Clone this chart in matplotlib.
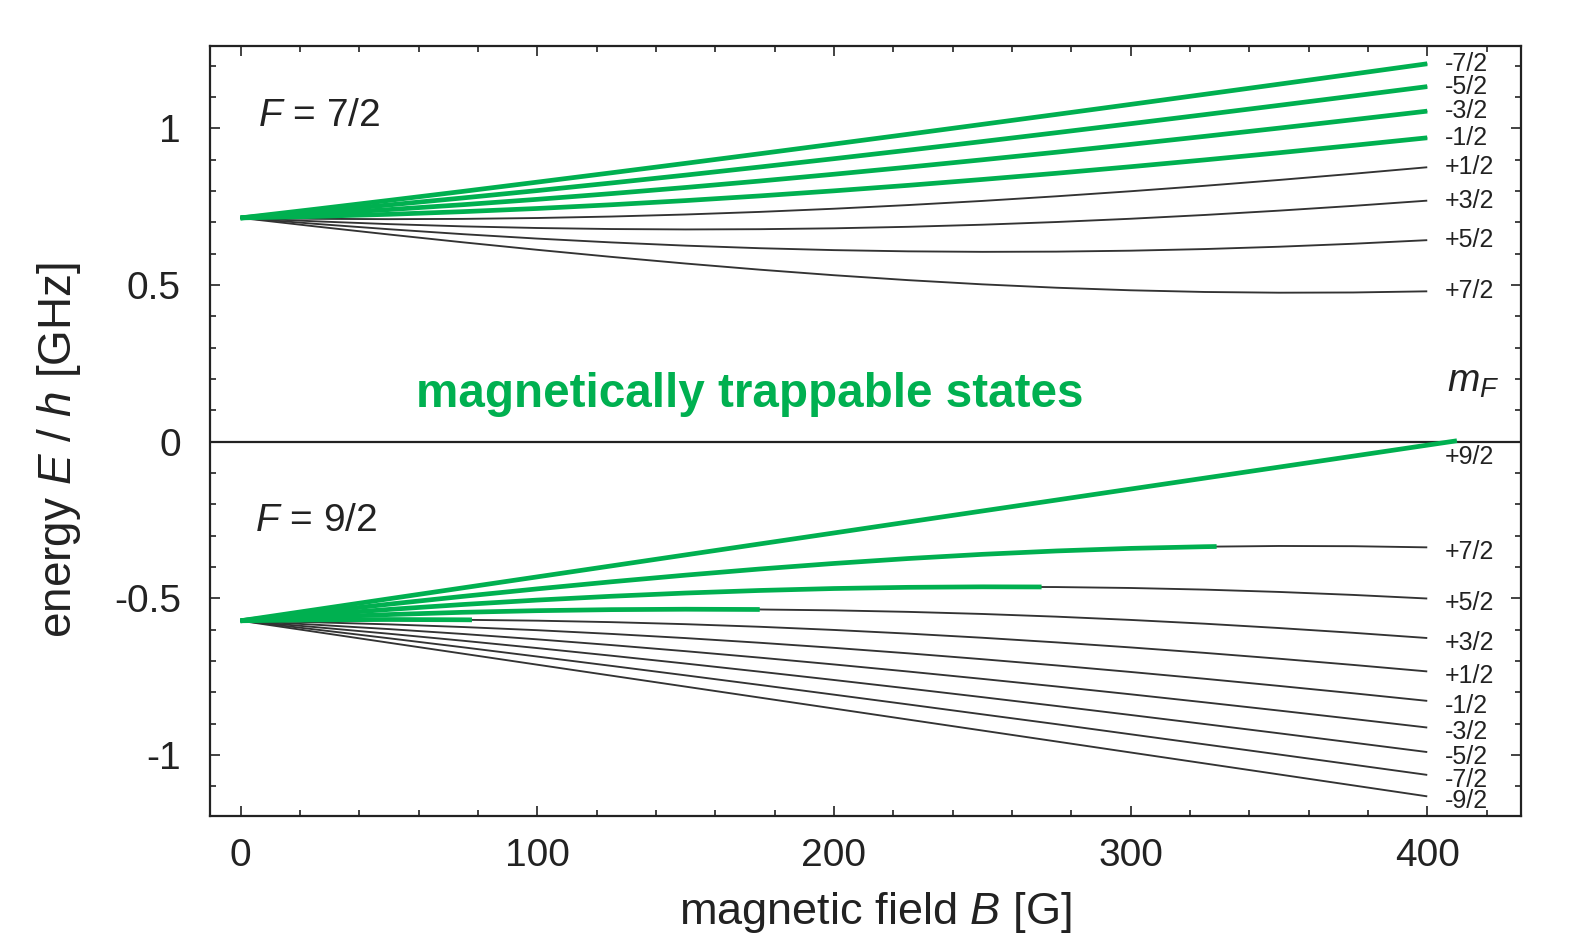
import numpy as np
import matplotlib
matplotlib.use("Agg")
import matplotlib.pyplot as plt
from matplotlib.ticker import MultipleLocator, FuncFormatter

plt.rcParams["font.family"] = ["Liberation Sans", "DejaVu Sans"]
plt.rcParams["mathtext.fontset"] = "custom"
plt.rcParams["mathtext.rm"] = "Liberation Sans"
plt.rcParams["mathtext.it"] = "Liberation Sans:italic"
plt.rcParams["mathtext.sf"] = "Liberation Sans"
plt.rcParams["axes.unicode_minus"] = False

# ---------------- data ----------------
B = [0, 25, 50, 75, 100, 125, 150, 175, 200, 225, 250, 275, 300, 325, 350, 375, 400]  # [G]

# F = 7/2 manifold, energies E/h [GHz], top to bottom at high field
upper_labels = ["-7/2", "-5/2", "-3/2", "-1/2", "+1/2", "+3/2", "+5/2", "+7/2"]
upper_E = [
    [0.7143, 0.7419, 0.7702, 0.7990, 0.8285, 0.8583, 0.8885, 0.9191, 0.9501,
     0.9813, 1.0129, 1.0446, 1.0766, 1.1088, 1.1411, 1.1736, 1.2063],
    [0.7143, 0.7344, 0.7557, 0.7781, 0.8015, 0.8258, 0.8509, 0.8768, 0.9033,
     0.9304, 0.9581, 0.9863, 1.0150, 1.0440, 1.0735, 1.1033, 1.1334],
    [0.7143, 0.7268, 0.7409, 0.7565, 0.7736, 0.7919, 0.8114, 0.8320, 0.8537,
     0.8763, 0.8998, 0.9240, 0.9490, 0.9747, 1.0009, 1.0278, 1.0551],
    [0.7143, 0.7191, 0.7258, 0.7343, 0.7444, 0.7563, 0.7696, 0.7845, 0.8007,
     0.8182, 0.8370, 0.8568, 0.8777, 0.8995, 0.9222, 0.9458, 0.9700],
    [0.7143, 0.7114, 0.7103, 0.7112, 0.7140, 0.7187, 0.7252, 0.7335, 0.7436,
     0.7553, 0.7685, 0.7833, 0.7994, 0.8168, 0.8354, 0.8552, 0.8760],
    [0.7143, 0.7035, 0.6945, 0.6873, 0.6821, 0.6788, 0.6775, 0.6783, 0.6811,
     0.6859, 0.6926, 0.7012, 0.7116, 0.7237, 0.7375, 0.7527, 0.7694],
    [0.7143, 0.6955, 0.6782, 0.6624, 0.6483, 0.6361, 0.6258, 0.6176, 0.6115,
     0.6076, 0.6060, 0.6067, 0.6097, 0.6149, 0.6223, 0.6318, 0.6433],
    [0.7143, 0.6874, 0.6614, 0.6364, 0.6125, 0.5899, 0.5687, 0.5491, 0.5314,
     0.5157, 0.5023, 0.4915, 0.4833, 0.4779, 0.4756, 0.4763, 0.4800],
]
upper_trappable = ["-7/2", "-5/2", "-3/2", "-1/2"]

# F = 9/2 manifold, energies E/h [GHz], top to bottom
lower_labels = ["+9/2", "+7/2", "+5/2", "+3/2", "+1/2",
                "-1/2", "-3/2", "-5/2", "-7/2", "-9/2"]
lower_E = [
    [-0.5715, -0.5365, -0.5014, -0.4664, -0.4314, -0.3964, -0.3613, -0.3263, -0.2913,
     -0.2562, -0.2212, -0.1862, -0.1511, -0.1161, -0.0811, -0.0461, -0.0110],
    [-0.5715, -0.5446, -0.5186, -0.4936, -0.4697, -0.4471, -0.4259, -0.4063, -0.3886,
     -0.3729, -0.3595, -0.3487, -0.3405, -0.3351, -0.3328, -0.3335, -0.3372],
    [-0.5715, -0.5527, -0.5354, -0.5196, -0.5055, -0.4933, -0.4830, -0.4748, -0.4686,
     -0.4648, -0.4632, -0.4639, -0.4669, -0.4721, -0.4795, -0.4890, -0.5005],
    [-0.5715, -0.5607, -0.5517, -0.5445, -0.5393, -0.5360, -0.5347, -0.5355, -0.5383,
     -0.5431, -0.5498, -0.5584, -0.5688, -0.5809, -0.5947, -0.6099, -0.6266],
    [-0.5715, -0.5686, -0.5675, -0.5684, -0.5712, -0.5759, -0.5824, -0.5907, -0.6008,
     -0.6125, -0.6257, -0.6405, -0.6566, -0.6740, -0.6926, -0.7124, -0.7332],
    [-0.5715, -0.5763, -0.5830, -0.5915, -0.6016, -0.6135, -0.6268, -0.6417, -0.6579,
     -0.6754, -0.6942, -0.7140, -0.7349, -0.7567, -0.7794, -0.8029, -0.8272],
    [-0.5715, -0.5840, -0.5981, -0.6137, -0.6308, -0.6491, -0.6686, -0.6892, -0.7109,
     -0.7335, -0.7570, -0.7812, -0.8062, -0.8319, -0.8581, -0.8849, -0.9123],
    [-0.5715, -0.5916, -0.6129, -0.6353, -0.6587, -0.6830, -0.7081, -0.7340, -0.7605,
     -0.7876, -0.8153, -0.8435, -0.8722, -0.9012, -0.9306, -0.9605, -0.9906],
    [-0.5715, -0.5991, -0.6274, -0.6562, -0.6857, -0.7155, -0.7457, -0.7763, -0.8073,
     -0.8385, -0.8701, -0.9015, -0.9338, -0.9660, -0.9983, -1.0308, -1.0635],
    [-0.5715, -0.6065, -0.6416, -0.6766, -0.7117, -0.7467, -0.7817, -0.8167, -0.8517,
     -0.8868, -0.9218, -0.9568, -0.9919, -1.0269, -1.0619, -1.0969, -1.1320],
]
# magnetically trappable segments in F = 9/2 (green): end field and end energy
lower_trappable = ["+9/2", "+7/2", "+5/2", "+3/2", "+1/2"]
trap_end_B = [410, 329, 270, 175, 78]
trap_end_E = [0.003, -0.3345, -0.4636, -0.5355, -0.5686]

# ---------------- styling ----------------
GREEN = "#00B050"
INK = "#222222"
LINE = "#333333"

fig = plt.figure(figsize=(15.85, 9.47), dpi=100)
ax = fig.add_axes([210 / 1585, 1 - 815.7 / 947, (1521 - 210) / 1585, (815.7 - 45.5) / 947])

Barr = np.array(B, dtype=float)

for row in upper_E + lower_E:
    ax.plot(Barr, row, color=LINE, lw=1.35, solid_capstyle="butt", zorder=2)

ax.axhline(0, color=INK, lw=1.6, zorder=3)

# green: magnetically trappable states
for lab in upper_trappable:
    row = upper_E[upper_labels.index(lab)]
    ax.plot(Barr, row, color=GREEN, lw=3.4, solid_capstyle="butt", zorder=4)

for lab, bend, eend in zip(lower_trappable, trap_end_B, trap_end_E):
    row = np.array(lower_E[lower_labels.index(lab)])
    m = Barr < bend
    xs = np.append(Barr[m], bend)
    ys = np.append(row[m], eend)
    ax.plot(xs, ys, color=GREEN, lw=3.4, solid_capstyle="butt", zorder=4)

# m_F labels at the right end of the curves
for lab, row in zip(upper_labels, upper_E):
    ax.text(406, row[-1], lab, fontsize=18, color=INK, ha="left", va="center")
for lab, row in zip(lower_labels, lower_E):
    dy = -0.037 if lab == "+9/2" else -0.015
    ax.text(406, row[-1] + dy, lab, fontsize=18, color=INK, ha="left", va="center")

ax.text(406.5, 0.19, "$m_F$", fontsize=28, color=INK, ha="left", va="center")
ax.text(6, 1.04, "$F$ = 7/2", fontsize=28, color=INK, ha="left", va="center")
ax.text(5, -0.253, "$F$ = 9/2", fontsize=28, color=INK, ha="left", va="center")
ax.text(59, 0.152, "magnetically trappable states", fontsize=34.3, fontweight="bold",
        color=GREEN, ha="left", va="center")

# axes
ax.set_xlim(-10.3, 431.6)
ax.set_ylim(-1.1937, 1.2646)
ax.xaxis.set_major_locator(MultipleLocator(100))
ax.xaxis.set_minor_locator(MultipleLocator(20))
ax.yaxis.set_major_locator(MultipleLocator(0.5))
ax.yaxis.set_minor_locator(MultipleLocator(0.1))
ax.yaxis.set_major_formatter(FuncFormatter(lambda v, p: f"{v:g}"))
ax.tick_params(which="both", direction="in", top=True, right=True, color=INK, width=1.2)
ax.tick_params(which="major", length=7)
ax.tick_params(which="minor", length=4)
ax.tick_params(axis="x", labelsize=28, pad=16, labelcolor=INK)
ax.tick_params(axis="y", labelsize=28, pad=21, labelcolor=INK)
for s in ax.spines.values():
    s.set_linewidth(1.6)
    s.set_color(INK)

fig.text(875 / 1585, 1 - 912 / 947, "magnetic field $B$ [G]", fontsize=32.5,
         color=INK, ha="center", va="center")
fig.text(59 / 1585, 1 - 450 / 947, "energy $E$ / $h$ [GHz]", fontsize=33,
         color=INK, ha="center", va="center", rotation=90)

fig.savefig("out.png", dpi=100)
